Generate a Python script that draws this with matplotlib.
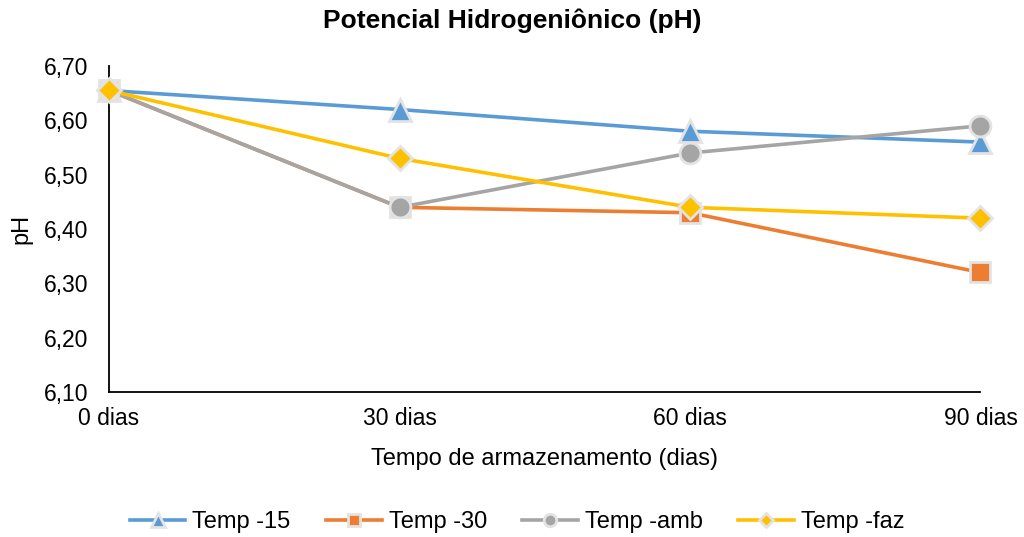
import matplotlib
matplotlib.use("Agg")
import matplotlib.pyplot as plt
from matplotlib.ticker import FuncFormatter

plt.rcParams['font.family'] = ['Liberation Sans', 'DejaVu Sans']

categories = ["0 dias", "30 dias", "60 dias", "90 dias"]
temp_15 = [6.655, 6.62, 6.58, 6.56]
temp_30 = [6.655, 6.44, 6.43, 6.32]
temp_amb = [6.655, 6.44, 6.54, 6.59]
temp_faz = [6.655, 6.53, 6.44, 6.42]

series = [
    ("Temp -15", temp_15, "#5B9BD5", "^", 16),
    ("Temp -30", temp_30, "#ED7D31", "s", 14),
    ("Temp -amb", temp_amb, "#A5A5A5", "o", 15),
    ("Temp -faz", temp_faz, "#FFC000", "D", 12),
]

fig = plt.figure(figsize=(10.24, 5.37), dpi=100)
ax = fig.add_axes([0.1065, 0.270, 0.851, 0.607])

x = list(range(len(categories)))
for name, vals, color, marker, ms in series:
    ax.plot(x, vals, color=color, lw=2.6, marker=marker, markersize=ms,
            markerfacecolor=color, markeredgecolor="#E3E3E3", markeredgewidth=2.0,
            label=name, clip_on=False, zorder=3)

ax.set_xlim(0, 3)
ax.set_ylim(6.10, 6.70)
ax.set_xticks(x)
ax.set_xticklabels(categories)
ax.set_yticks([6.10, 6.20, 6.30, 6.40, 6.50, 6.60, 6.70])
ax.yaxis.set_major_formatter(FuncFormatter(lambda v, p: f"{v:.2f}".replace(".", ",")))
ax.tick_params(axis="both", length=0, labelsize=16.5)
ax.tick_params(axis="y", pad=15)
ax.tick_params(axis="x", pad=11)
for s in ["top", "right"]:
    ax.spines[s].set_visible(False)
for s in ["left", "bottom"]:
    ax.spines[s].set_color("black")
    ax.spines[s].set_linewidth(1.3)

fig.text(0.5, 1 - 21 / 537, "Potencial Hidrogeniônico (pH)", fontsize=19,
         fontweight="bold", ha="center", va="center")
ax.set_xlabel("Tempo de armazenamento (dias)", fontsize=17, labelpad=13)
ax.set_ylabel("pH", fontsize=17, va="center")
ax.yaxis.set_label_coords(-0.1, 0.5)

leg = fig.legend(loc="center", bbox_to_anchor=(0.505, 0.028), ncol=4, frameon=False,
                 fontsize=17, handlelength=2.35, columnspacing=1.5, handletextpad=0.3,
                 markerscale=0.6)

fig.savefig("out.png", dpi=100)
